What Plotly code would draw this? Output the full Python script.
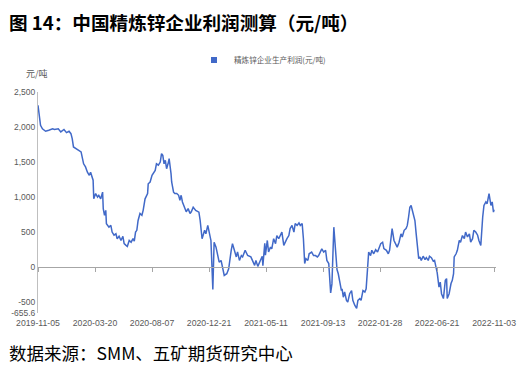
import plotly.graph_objects as go

# Trading-day index (0 = 2019-11-05, 720 = 2022-11-03) and profit (元/吨)
day_index = [
    0, 4, 7, 12, 17, 23, 26, 32, 36, 41, 45, 49, 52, 54, 56, 60, 65, 68, 72, 75,
    78, 81, 83, 86, 87, 88, 91, 94, 96, 99, 102, 103, 105, 107, 108, 112, 115, 117, 120, 123,
    125, 128, 131, 134, 136, 139, 141, 144, 147, 150, 152, 154, 156, 158, 161, 164, 166, 169, 171, 173,
    174, 177, 180, 182, 185, 187, 190, 193, 195, 197, 199, 201, 203, 206, 207, 210, 211, 214, 216, 219,
    222, 224, 226, 228, 231, 234, 237, 240, 242, 245, 249, 254, 256, 259, 263, 265, 268, 270, 273, 276,
    278, 281, 284, 286, 289, 292, 294, 298, 301, 305, 307, 310, 313, 315, 318, 321, 323, 327, 331, 336,
    339, 342, 344, 347, 351, 354, 355, 358, 359, 362, 364, 367, 369, 372, 375, 377, 380, 383, 385, 388,
    390, 393, 396, 398, 401, 404, 406, 409, 412, 414, 417, 419, 421, 423, 426, 428, 432, 435, 438, 441,
    443, 446, 448, 451, 454, 456, 459, 462, 464, 467, 469, 472, 474, 476, 479, 480, 482, 484, 487, 489,
    492, 495, 497, 500, 503, 505, 508, 510, 513, 516, 518, 520, 522, 525, 527, 530, 533, 536, 538, 541,
    544, 546, 550, 553, 555, 558, 559, 562, 565, 567, 570, 573, 575, 578, 581, 583, 585, 587, 589, 592,
    595, 597, 599, 601, 603, 605, 608, 611, 613, 616, 618, 621, 624, 626, 628, 630, 633, 635, 637, 640,
    643, 645, 646, 649, 652, 654, 656, 657, 660, 662, 665, 667, 670, 673, 675, 678, 681, 683, 686, 688,
    691, 694, 696, 699, 702, 704, 707, 709, 712, 715, 717, 719, 720,
]
profit = [
    2310, 2025, 1975, 1940, 1955, 1975, 1965, 1975, 1930, 1965, 1920, 1940, 1905, 1835, 1715, 1690, 1665, 1645, 1475, 1430,
    1355, 1310, 1355, 1285, 1240, 975, 1050, 1000, 1025, 975, 1070, 835, 740, 810, 620, 570, 595, 500, 455, 475,
    405, 440, 380, 440, 335, 310, 295, 380, 355, 405, 370, 500, 525, 665, 765, 740, 810, 975, 1025, 1050,
    1190, 1215, 1310, 1335, 1380, 1475, 1455, 1500, 1620, 1595, 1475, 1525, 1405, 1500, 1550, 1335, 1215, 1070, 1050, 1050,
    1025, 955, 1025, 930, 855, 790, 835, 765, 790, 855, 810, 785, 665, 405, 525, 475, 595, 500, 380, -320,
    355, 285, 145, 70, 95, -45, -120, -95, -25, 240, 335, 240, 145, 215, 95, 165, 145, 240, 165, 145,
    95, 25, 95, 10, 95, 155, 20, 340, 170, 380, 215, 285, 260, 405, 335, 450, 405, 475, 500, 310,
    355, 405, 450, 550, 595, 500, 620, 595, 630, 595, 620, 405, 50, 120, 95, 190, 215, 165, 165, 145,
    165, 215, 260, 215, 240, 95, 50, -370, -240, 570, 355, -35, -95, -215, -335, -310, -430, -355, -475, -500,
    -380, -335, -475, -545, -590, -475, -450, -475, -335, -355, -310, -50, 215, 165, 240, 190, 250, 215, 265, 335,
    355, 265, 240, 190, 240, 430, 550, 380, 310, 285, 355, 475, 430, 525, 550, 595, 715, 855, 880, 760,
    665, 475, 260, 120, 145, 95, 155, 105, 135, 95, 155, 135, 85, 95, 10, -70, -285, -215, -380, -450,
    -190, -165, -450, -380, -235, -190, -95, 145, 190, 240, 380, 355, 450, 405, 500, 430, 475, 355, 405, 525,
    500, 455, 380, 310, 715, 880, 930, 905, 1050, 880, 930, 785, 820,
]

tick_positions = [0, 90, 180, 270, 360, 450, 540, 630, 720]
tick_labels = ["2019-11-05", "2020-03-20", "2020-08-07", "2020-12-21", "2021-05-11",
               "2021-09-13", "2022-01-28", "2022-06-21", "2022-11-03"]
y_ticks = [-655.6, -500, 0, 500, 1000, 1500, 2000, 2500]
y_tick_text = ["-655.6", "-500", "0", "500", "1,000", "1,500", "2,000", "2,500"]
series_name = "精炼锌企业生产利润(元/吨)"

y_min, y_max = -655.6, 2500
LINE_COLOR = "#4169C8"
GRAY_TXT = "#595959"
CJK = "Noto Sans CJK SC"
NUM = "Liberation Sans"

fig = go.Figure()
fig.add_trace(go.Scatter(
    x=day_index, y=profit, mode="lines",
    line=dict(color=LINE_COLOR, width=1.5),
    showlegend=False, hoverinfo="skip",
))
# legend entry (square marker)
fig.add_trace(go.Scatter(
    x=[None], y=[None], mode="markers", xaxis="x2",
    marker=dict(symbol="square", size=6, color=LINE_COLOR),
    name=series_name, showlegend=True,
))

zero_frac = (0 - y_min) / (y_max - y_min)
PW = 458  # plot width px
PH = 221  # plot height px

fig.update_layout(
    width=528, height=373,
    margin=dict(l=38, r=32, t=92, b=60, autoexpand=False),
    paper_bgcolor="white", plot_bgcolor="white",
    xaxis=dict(
        range=[0, 723], showgrid=False, zeroline=False, showline=False,
        tickmode="array", tickvals=tick_positions, ticktext=tick_labels,
        ticks="", ticklabelstandoff=3,
        tickfont=dict(family=NUM, size=8.7, color=GRAY_TXT),
        automargin=False,
    ),
    xaxis2=dict(
        overlaying="x", matches="x", anchor="free", position=zero_frac,
        showgrid=False, zeroline=False, showline=True, linecolor="#a6a6a6", linewidth=1,
        tickmode="array", tickvals=tick_positions, ticks="outside", ticklen=4,
        tickcolor="#a6a6a6", showticklabels=False,
    ),
    yaxis=dict(
        range=[y_min, y_max], showgrid=False, zeroline=False,
        showline=True, linecolor="#bfbfbf", linewidth=1,
        tickmode="array", tickvals=y_ticks, ticktext=y_tick_text, ticks="",
        tickfont=dict(family=NUM, size=8.5, color=GRAY_TXT),
        automargin=False,
    ),
    legend=dict(
        orientation="h", x=(194 - 38) / PW, xanchor="left",
        y=1 + 32 / PH, yanchor="middle",
        font=dict(family=CJK, size=7.6, color=GRAY_TXT),
        bgcolor="rgba(0,0,0,0)",
    ),
    annotations=[
        dict(text="<b>图 14：中国精炼锌企业利润测算（元/吨）</b>",
             x=(7 - 38) / PW, y=1 + (92 - 21) / PH, xref="paper", yref="paper",
             xanchor="left", yanchor="middle", showarrow=False,
             font=dict(family=CJK, size=18.6, color="black")),
        dict(text="元/吨", x=-1 / PW, y=1 + 19 / PH, xref="paper", yref="paper",
             xanchor="center", yanchor="middle", showarrow=False,
             font=dict(family=CJK, size=9, color=GRAY_TXT)),
        dict(text="数据来源：SMM、五矿期货研究中心", x=(7 - 38) / PW, y=-39 / PH,
             xref="paper", yref="paper", xanchor="left", yanchor="middle",
             showarrow=False, font=dict(family=CJK, size=17.5, color="black")),
    ],
)

fig.write_html("out.html", config={"displayModeBar": False},
               post_script="document.body.style.margin='0';document.body.style.padding='0';")
